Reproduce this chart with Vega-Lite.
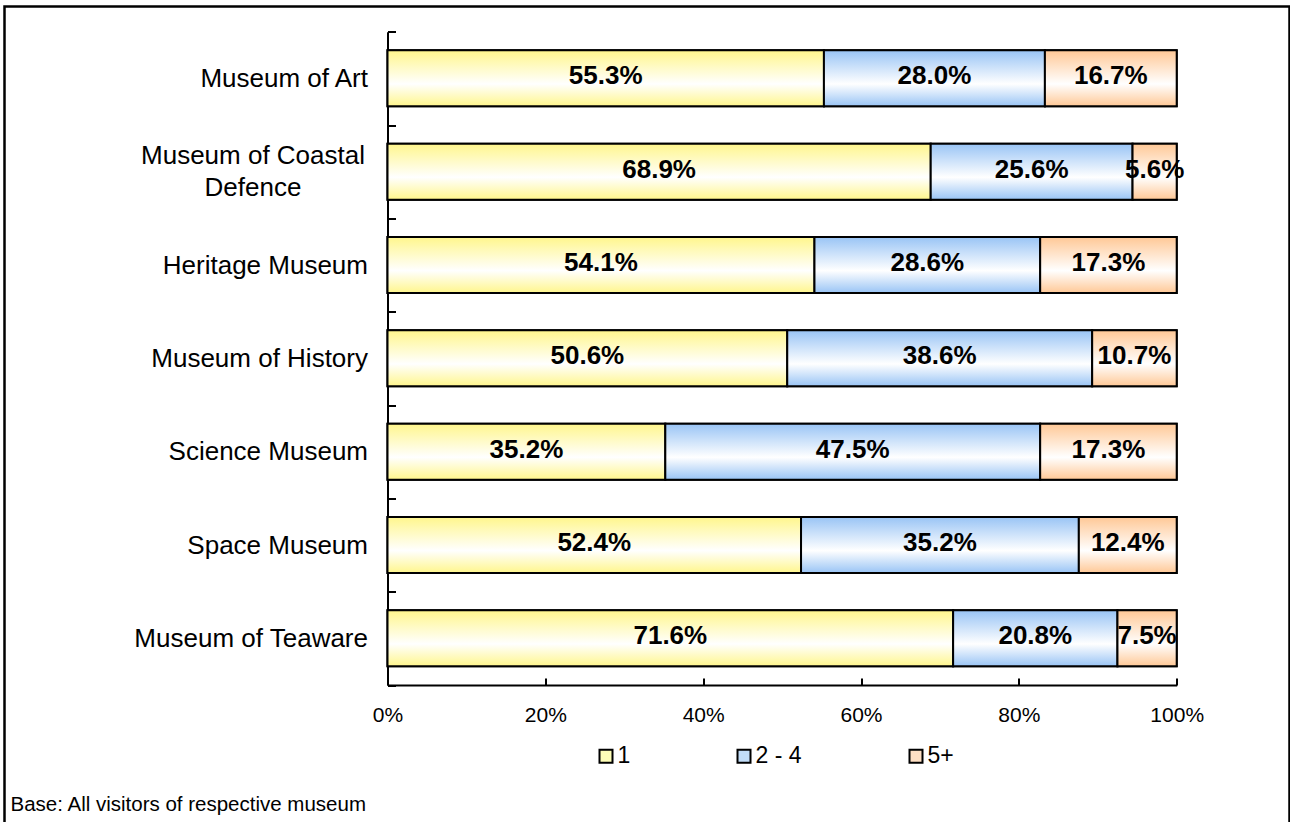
{
  "$schema": "https://vega.github.io/schema/vega-lite/v6.json",
  "width": 1285,
  "height": 840,
  "autosize": {"type": "none"},
  "padding": {"left": 4.5, "top": 6.5, "right": 0, "bottom": 0},
  "background": "white",
  "config": {
    "view": {"stroke": "black", "strokeWidth": 2.5},
    "font": "Liberation Sans"
  },
  "data": {
    "values": [
      {"museum": "Museum of Art", "k": "1", "pct": 0.553},
      {"museum": "Museum of Art", "k": "2 - 4", "pct": 0.280},
      {"museum": "Museum of Art", "k": "5+", "pct": 0.167},
      {"museum": "Museum of Coastal Defence", "k": "1", "pct": 0.689},
      {"museum": "Museum of Coastal Defence", "k": "2 - 4", "pct": 0.256},
      {"museum": "Museum of Coastal Defence", "k": "5+", "pct": 0.056},
      {"museum": "Heritage Museum", "k": "1", "pct": 0.541},
      {"museum": "Heritage Museum", "k": "2 - 4", "pct": 0.286},
      {"museum": "Heritage Museum", "k": "5+", "pct": 0.173},
      {"museum": "Museum of History", "k": "1", "pct": 0.506},
      {"museum": "Museum of History", "k": "2 - 4", "pct": 0.386},
      {"museum": "Museum of History", "k": "5+", "pct": 0.107},
      {"museum": "Science Museum", "k": "1", "pct": 0.352},
      {"museum": "Science Museum", "k": "2 - 4", "pct": 0.475},
      {"museum": "Science Museum", "k": "5+", "pct": 0.173},
      {"museum": "Space Museum", "k": "1", "pct": 0.524},
      {"museum": "Space Museum", "k": "2 - 4", "pct": 0.352},
      {"museum": "Space Museum", "k": "5+", "pct": 0.124},
      {"museum": "Museum of Teaware", "k": "1", "pct": 0.716},
      {"museum": "Museum of Teaware", "k": "2 - 4", "pct": 0.208},
      {"museum": "Museum of Teaware", "k": "5+", "pct": 0.075}
    ]
  },
  "transform": [
    {"stack": "pct", "groupby": ["museum"], "sort": [{"field": "k", "order": "ascending"}], "offset": "normalize", "as": ["v0", "v1"]},
    {"calculate": "(datum.v0 + datum.v1) / 2", "as": "mid"}
  ],
  "encoding": {
    "y": {
      "field": "museum",
      "type": "nominal",
      "sort": ["Museum of Art", "Museum of Coastal Defence", "Heritage Museum", "Museum of History", "Science Museum", "Space Museum", "Museum of Teaware"],
      "scale": {"range": [25.2, 678.5], "paddingInner": 0, "paddingOuter": 0},
      "axis": {
        "title": null,
        "offset": -383,
        "grid": false,
        "tickBand": "extent",
        "tickSize": -8,
        "tickWidth": 2,
        "tickColor": "black",
        "domainColor": "black",
        "domainWidth": 2,
        "labelFont": "Liberation Sans",
        "labelFontSize": 26,
        "labelColor": "black",
        "labelPadding": {"condition": {"test": "datum.value == 'Museum of Coastal Defence'", "value": 143}, "value": 28},
        "labelOffset": {"condition": {"test": "datum.value == 'Museum of Coastal Defence'", "value": -16}, "value": 0},
        "labelLimit": 400,
        "labelLineHeight": 32,
        "labelAlign": {"condition": {"test": "datum.value == 'Museum of Coastal Defence'", "value": "center"}, "value": "right"},
        "labelBaseline": "middle",
        "labelExpr": "datum.value == 'Museum of Coastal Defence' ? ['Museum of Coastal', 'Defence'] : datum.value"
      }
    }
  },
  "layer": [
    {
      "mark": {"type": "bar", "height": {"band": 0.6}, "stroke": "black", "strokeWidth": 2},
      "encoding": {
        "x": {
          "field": "v0",
          "type": "quantitative",
          "scale": {"domain": [0, 1], "range": [383, 1172.2], "nice": false, "zero": false},
          "axis": {
            "title": "Base: All visitors of respective museum",
            "orient": "bottom",
            "offset": -161.5,
            "grid": false,
            "values": [0, 0.2, 0.4, 0.6, 0.8, 1],
            "format": ".0%",
            "domainColor": "black",
            "domainWidth": 2,
            "tickColor": "black",
            "tickWidth": 2,
            "tickSize": -7,
            "labelPadding": 26.5,
            "labelFont": "Liberation Sans",
            "labelFontSize": 21,
            "labelColor": "black",
            "labelBaseline": "top",
            "labelFlush": false,
            "titleX": 5.5,
            "titleY": 125,
            "titleAlign": "left",
            "titleAnchor": "start",
            "titleBaseline": "alphabetic",
            "titleAngle": 0,
            "titleFont": "Liberation Sans",
            "titleFontSize": 20.5,
            "titleFontWeight": "normal",
            "titleColor": "black"
          }
        },
        "x2": {"field": "v1"},
        "color": {
          "field": "k",
          "type": "nominal",
          "scale": {"domain": ["1", "2 - 4", "5+"], "range": ["#FFFFB8", "#C2DDF8", "#FFE0C4"]},
          "legend": {
            "title": null,
            "orient": "none",
            "direction": "horizontal",
            "legendX": 590,
            "legendY": 738,
            "padding": 0,
            "symbolType": "square",
            "symbolSize": 169,
            "symbolStrokeColor": "black",
            "symbolStrokeWidth": 2,
            "labelFont": "Liberation Sans",
            "labelFontSize": 23,
            "labelColor": "black",
            "labelOffset": 0,
            "columnPadding": 102
          }
        }
      }
    },
    {
      "transform": [{"filter": "datum.k == '1'"}],
      "mark": {
        "type": "bar", "height": {"band": 0.6}, "stroke": "black", "strokeWidth": 2,
        "fill": {"gradient": "linear", "x1": 0, "y1": 0, "x2": 0, "y2": 1,
          "stops": [{"offset": 0, "color": "#FFF68C"}, {"offset": 0.6, "color": "#FFFFFF"}, {"offset": 1, "color": "#FFF68C"}]}
      },
      "encoding": {"x": {"field": "v0", "type": "quantitative"}, "x2": {"field": "v1"}}
    },
    {
      "transform": [{"filter": "datum.k == '2 - 4'"}],
      "mark": {
        "type": "bar", "height": {"band": 0.6}, "stroke": "black", "strokeWidth": 2,
        "fill": {"gradient": "linear", "x1": 0, "y1": 0, "x2": 0, "y2": 1,
          "stops": [{"offset": 0, "color": "#99C4F5"}, {"offset": 0.6, "color": "#FFFFFF"}, {"offset": 1, "color": "#99C4F5"}]}
      },
      "encoding": {"x": {"field": "v0", "type": "quantitative"}, "x2": {"field": "v1"}}
    },
    {
      "transform": [{"filter": "datum.k == '5+'"}],
      "mark": {
        "type": "bar", "height": {"band": 0.6}, "stroke": "black", "strokeWidth": 2,
        "fill": {"gradient": "linear", "x1": 0, "y1": 0, "x2": 0, "y2": 1,
          "stops": [{"offset": 0, "color": "#FFC896"}, {"offset": 0.6, "color": "#FFFFFF"}, {"offset": 1, "color": "#FFC896"}]}
      },
      "encoding": {"x": {"field": "v0", "type": "quantitative"}, "x2": {"field": "v1"}}
    },
    {
      "mark": {"type": "text", "align": "center", "baseline": "middle", "font": "Liberation Sans", "fontSize": 26, "fontWeight": "bold", "fill": "black", "dy": -2},
      "encoding": {
        "x": {"field": "mid", "type": "quantitative"},
        "text": {"field": "pct", "type": "quantitative", "format": ".1%"}
      }
    }
  ]
}
